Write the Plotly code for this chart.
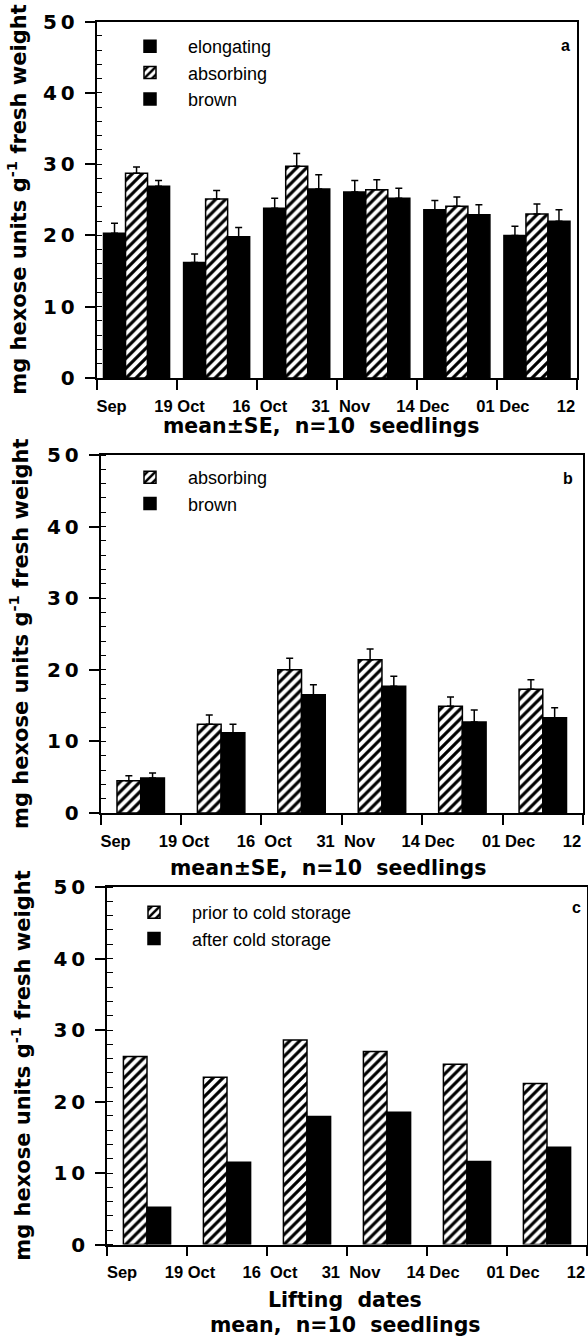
import plotly.graph_objects as go

# ---------------- data ----------------
groups = [1, 2, 3, 4, 5, 6]
tick_pos = [0.5, 1.5, 2.5, 3.5, 4.5, 5.5, 6.5]
tick_text = ["Sep", "19 Oct", "16  Oct", "31  Nov", "14 Dec", "01 Dec", "12"]
y_tickvals = [0, 10, 20, 30, 40, 50]
y_ticktext = ["0", "1\u20090", "2\u20090", "3\u20090", "4\u20090", "5\u20090"]

a_elong = [20.3, 16.2, 23.8, 26.1, 23.6, 20.0]
a_elong_se = [1.4, 1.2, 1.4, 1.6, 1.3, 1.3]
a_abs = [28.7, 25.1, 29.7, 26.4, 24.1, 23.0]
a_abs_se = [0.9, 1.2, 1.8, 1.4, 1.3, 1.4]
a_brown = [26.9, 19.8, 26.5, 25.2, 22.9, 22.0]
a_brown_se = [0.8, 1.3, 2.0, 1.4, 1.4, 1.6]

b_abs = [4.5, 12.4, 20.0, 21.4, 14.9, 17.3]
b_abs_se = [0.7, 1.3, 1.6, 1.5, 1.3, 1.3]
b_brown = [4.9, 11.2, 16.5, 17.7, 12.7, 13.3]
b_brown_se = [0.7, 1.2, 1.4, 1.4, 1.7, 1.4]

c_prior = [26.3, 23.4, 28.6, 27.0, 25.2, 22.5]
c_after = [5.2, 11.5, 17.9, 18.5, 11.6, 13.6]

# ---------------- styles ----------------
W, H = 588, 1340
BLACK = "black"
label_shift_px = [15, 3, 3, 4, 6, 6, -11]   # horizontal offset of each date label from its tick
hatch = dict(color="white", line=dict(color=BLACK, width=1.5),
             pattern=dict(shape="/", fgcolor=BLACK, bgcolor="white", size=7, solidity=0.45))
solid = dict(color=BLACK, line=dict(color=BLACK, width=1.5))


def err(se):
    return dict(type="data", array=se, arrayminus=[0] * len(se), symmetric=False,
                color=BLACK, thickness=1.5, width=3.5)


def dx(l, r):
    return [l / W, r / W]


def dy(t, b):
    return [1 - b / H, 1 - t / H]


fig = go.Figure()

# panel a
wa = 0.275
fig.add_bar(x=groups, y=a_elong, error_y=err(a_elong_se), marker=solid, width=wa, offset=-1.5 * wa,
            name="elongating", xaxis="x", yaxis="y", legend="legend")
fig.add_bar(x=groups, y=a_abs, error_y=err(a_abs_se), marker=hatch, width=wa, offset=-0.5 * wa,
            name="absorbing", xaxis="x", yaxis="y", legend="legend")
fig.add_bar(x=groups, y=a_brown, error_y=err(a_brown_se), marker=solid, width=wa, offset=0.5 * wa,
            name="brown", xaxis="x", yaxis="y", legend="legend")

# panel b
wb = 0.295
fig.add_bar(x=groups, y=b_abs, error_y=err(b_abs_se), marker=hatch, width=wb, offset=-wb,
            name="absorbing", xaxis="x2", yaxis="y2", legend="legend2")
fig.add_bar(x=groups, y=b_brown, error_y=err(b_brown_se), marker=solid, width=wb, offset=0,
            name="brown", xaxis="x2", yaxis="y2", legend="legend2")

# panel c
fig.add_bar(x=groups, y=c_prior, marker=hatch, width=wb, offset=-wb,
            name="prior to cold storage", xaxis="x3", yaxis="y3", legend="legend3")
fig.add_bar(x=groups, y=c_after, marker=solid, width=wb, offset=0,
            name="after cold storage", xaxis="x3", yaxis="y3", legend="legend3")

xtick_font = dict(family="Liberation Sans Narrow, Arial Narrow, Liberation Sans, Arial", size=16.5,
                  color=BLACK, weight="bold")
ytick_font = dict(family="DejaVu Sans, Verdana", size=20, color=BLACK, weight="bold")


def xaxis(dom, anchor, px_width):
    # labels placed at slightly shifted positions; the real tick marks are drawn as minor ticks
    unit = 6.0 / px_width
    pos = [t + s * unit for t, s in zip(tick_pos, label_shift_px)]
    return dict(domain=dom, anchor=anchor, range=[0.5, 6.5], tickmode="array", tickvals=pos,
                ticktext=tick_text, ticks="outside", ticklen=10, tickwidth=1.5,
                tickcolor="rgba(0,0,0,0)", tickfont=xtick_font, ticklabelstandoff=2,
                ticklabeloverflow="allow",
                minor=dict(tickmode="array", tickvals=tick_pos, ticks="outside", ticklen=10,
                           tickwidth=1.5, tickcolor=BLACK, showgrid=False),
                showline=True, linewidth=1.5, linecolor=BLACK, mirror=True, showgrid=False,
                zeroline=False, automargin=False)


def yaxis(dom, anchor):
    return dict(domain=dom, anchor=anchor, range=[0, 50], tickmode="array", tickvals=y_tickvals,
                ticktext=y_ticktext, ticks="outside", ticklen=10, tickwidth=1.5, tickcolor=BLACK,
                showline=True, linewidth=1.5, linecolor=BLACK, mirror=True, showgrid=False,
                zeroline=False, tickfont=ytick_font, ticklabelstandoff=6, automargin=False,
                minor=dict(tickmode="linear", tick0=0, dtick=2, ticks="inside", ticklen=6,
                           tickwidth=1.2, tickcolor=BLACK, showgrid=False))


pa = dict(l=96.5, r=577, t=21.5, b=378)
pb = dict(l=100.5, r=583, t=455, b=813)
pc = dict(l=107, r=587, t=887, b=1244.5)

leg_common = dict(font=dict(family="Liberation Sans, Arial", size=18, color=BLACK),
                  bgcolor="rgba(0,0,0,0)", borderwidth=0, itemwidth=66, tracegroupgap=0,
                  traceorder="normal", xanchor="left", yanchor="top",
                  itemclick=False, itemdoubleclick=False)

lay = dict(
    template="none",
    width=W, height=H, margin=dict(l=0, r=0, t=0, b=0, pad=0), autosize=False,
    paper_bgcolor="white", plot_bgcolor="white", barmode="overlay", showlegend=True,
    legend=dict(x=112 / W, y=1 - 28 / H, **leg_common),
    legend2=dict(x=112 / W, y=1 - 459 / H, **leg_common),
    legend3=dict(x=116 / W, y=1 - 894 / H, **leg_common),
)
names = [("x", "y"), ("x2", "y2"), ("x3", "y3")]
for (xn, yn), p in zip(names, (pa, pb, pc)):
    xd, yd = dx(p["l"], p["r"]), dy(p["t"], p["b"])
    lay["xaxis" + xn[1:]] = xaxis(xd, yn, p["r"] - p["l"])
    lay["yaxis" + yn[1:]] = yaxis(yd, xn)
fig.update_layout(**lay)

ytitle = "mg hexose units g<sup>-1</sup> fresh weight"
title_font = dict(family="DejaVu Sans, Verdana", size=21, color=BLACK, weight="bold")
xt_font = dict(family="DejaVu Sans, Verdana", size=20.5, color=BLACK, weight="bold")
letter_font = dict(family="Liberation Sans, Arial", size=16, color=BLACK, weight="bold")

ann = []
for p, xc in ((pa, 17), (pb, 19), (pc, 21)):
    ann.append(dict(text=ytitle, textangle=-90, font=title_font, xref="paper", yref="paper",
                    x=xc / W, y=1 - (p["t"] + p["b"]) / 2 / H,
                    xanchor="center", yanchor="middle", showarrow=False))
ann.append(dict(text="mean\u00b1SE,\u00a0 n=10\u00a0 seedlings", font=xt_font, xref="paper", yref="paper",
                x=321 / W, y=1 - 426 / H, xanchor="center", yanchor="middle", showarrow=False))
ann.append(dict(text="mean\u00b1SE,\u00a0 n=10\u00a0 seedlings", font=xt_font, xref="paper", yref="paper",
                x=328 / W, y=1 - 868 / H, xanchor="center", yanchor="middle", showarrow=False))
ann.append(dict(text="Lifting\u00a0 dates", font=xt_font, xref="paper", yref="paper",
                x=345 / W, y=1 - 1300 / H, xanchor="center", yanchor="middle", showarrow=False))
ann.append(dict(text="mean,\u00a0 n=10\u00a0 seedlings", font=xt_font, xref="paper", yref="paper",
                x=345 / W, y=1 - 1325 / H, xanchor="center", yanchor="middle", showarrow=False))
for t, x, y in (("a", 565, 45), ("b", 568, 478), ("c", 576, 907)):
    ann.append(dict(text=t, font=letter_font, xref="paper", yref="paper", x=x / W, y=1 - y / H,
                    xanchor="center", yanchor="middle", showarrow=False))
fig.update_layout(annotations=ann)

fig.write_html("out.html")
